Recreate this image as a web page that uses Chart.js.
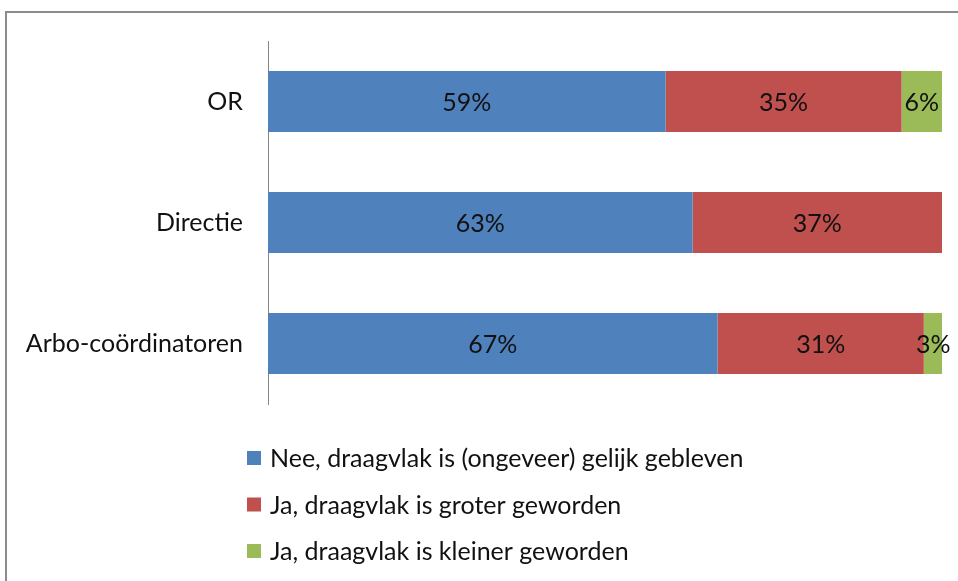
<!DOCTYPE html>
<html>
<head>
<meta charset="utf-8">
<script src="https://cdn.jsdelivr.net/npm/chart.js@4.4.0/dist/chart.umd.min.js"></script>
<style>
    html, body { margin: 0; padding: 0; background: #fff; }
    #wrap { position: relative; width: 958px; height: 581px; overflow: hidden; }
    #frame {
        position: absolute; left: 5px; top: 11px; width: 1000px; height: 620px;
        border-left: 2px solid #8c8c8c; border-top: 2px solid #8c8c8c;
    }
    #box { position: absolute; left: 0; top: 0; width: 958px; height: 581px; }
</style>
</head>
<body>
<div id="wrap">
    <div id="frame"></div>
    <div id="box"><canvas id="chart"></canvas></div>
</div>
<script>
// --- DATOS ---
const categories = ['OR', 'Directie', 'Arbo-coördinatoren'];
const seriesNames = [
    'Nee, draagvlak is (ongeveer) gelijk gebleven',
    'Ja, draagvlak is groter geworden',
    'Ja, draagvlak is kleiner geworden'
];
const gelijkValues = [59, 63, 66.7];
const groterValues = [35, 37, 30.6];
const kleinerValues = [6, 0, 2.8];
const seriesColors = ['#4f81bd', '#c0504d', '#9bbb59'];

const FONT = 'Lato, "Open Sans", sans-serif';
const FONT_SIZE = 25;
const textColor = '#111';

// percentages inside the bars
const barLabels = {
    id: 'barLabels',
    afterDatasetsDraw(chart) {
        const c = chart.ctx;
        c.save();
        c.font = `${FONT_SIZE}px ${FONT}`;
        c.fillStyle = textColor;
        c.textAlign = 'center';
        c.textBaseline = 'middle';
        chart.data.datasets.forEach((ds, i) => {
            chart.getDatasetMeta(i).data.forEach((bar, j) => {
                const v = ds.data[j];
                if (!v) return;
                const p = bar.getProps(['x', 'y', 'base'], true);
                c.fillText(Math.round(v) + '%', (p.x + p.base) / 2, p.y + 1);
            });
        });
        c.restore();
    }
};

// vertical legend under the plot, like the original
const stackedLegend = {
    id: 'stackedLegend',
    afterDraw(chart) {
        const c = chart.ctx;
        const startY = 458;
        const step = 46.5;
        c.save();
        c.font = `${FONT_SIZE}px ${FONT}`;
        c.textBaseline = 'middle';
        c.textAlign = 'left';
        chart.data.datasets.forEach((ds, i) => {
            const y = startY + i * step;
            c.fillStyle = ds.backgroundColor;
            c.fillRect(247, y - 7, 14, 14);
            c.fillStyle = textColor;
            c.fillText(ds.label, 270, y + 1);
        });
        c.restore();
    }
};

const datasets = [gelijkValues, groterValues, kleinerValues].map((vals, i) => ({
    label: seriesNames[i],
    data: vals,
    backgroundColor: seriesColors[i],
    borderWidth: 0,
    barPercentage: 0.505,
    categoryPercentage: 1
}));

new Chart(document.getElementById('chart'), {
    type: 'bar',
    data: { labels: categories, datasets: datasets },
    options: {
        indexAxis: 'y',
        responsive: true,
        maintainAspectRatio: false,
        animation: false,
        layout: { padding: { left: 0, top: 41, right: 16, bottom: 177 } },
        plugins: {
            legend: { display: false },
            tooltip: { enabled: false }
        },
        scales: {
            x: {
                stacked: true,
                min: 0,
                max: 100,
                display: false
            },
            y: {
                stacked: true,
                afterFit: (scale) => { scale.width = 268; },
                grid: { display: false, drawTicks: false },
                border: { display: true, color: '#868686', width: 1 },
                ticks: {
                    color: textColor,
                    padding: 25,
                    font: { family: FONT, size: FONT_SIZE }
                }
            }
        }
    },
    plugins: [barLabels, stackedLegend]
});
</script>
</body>
</html>
